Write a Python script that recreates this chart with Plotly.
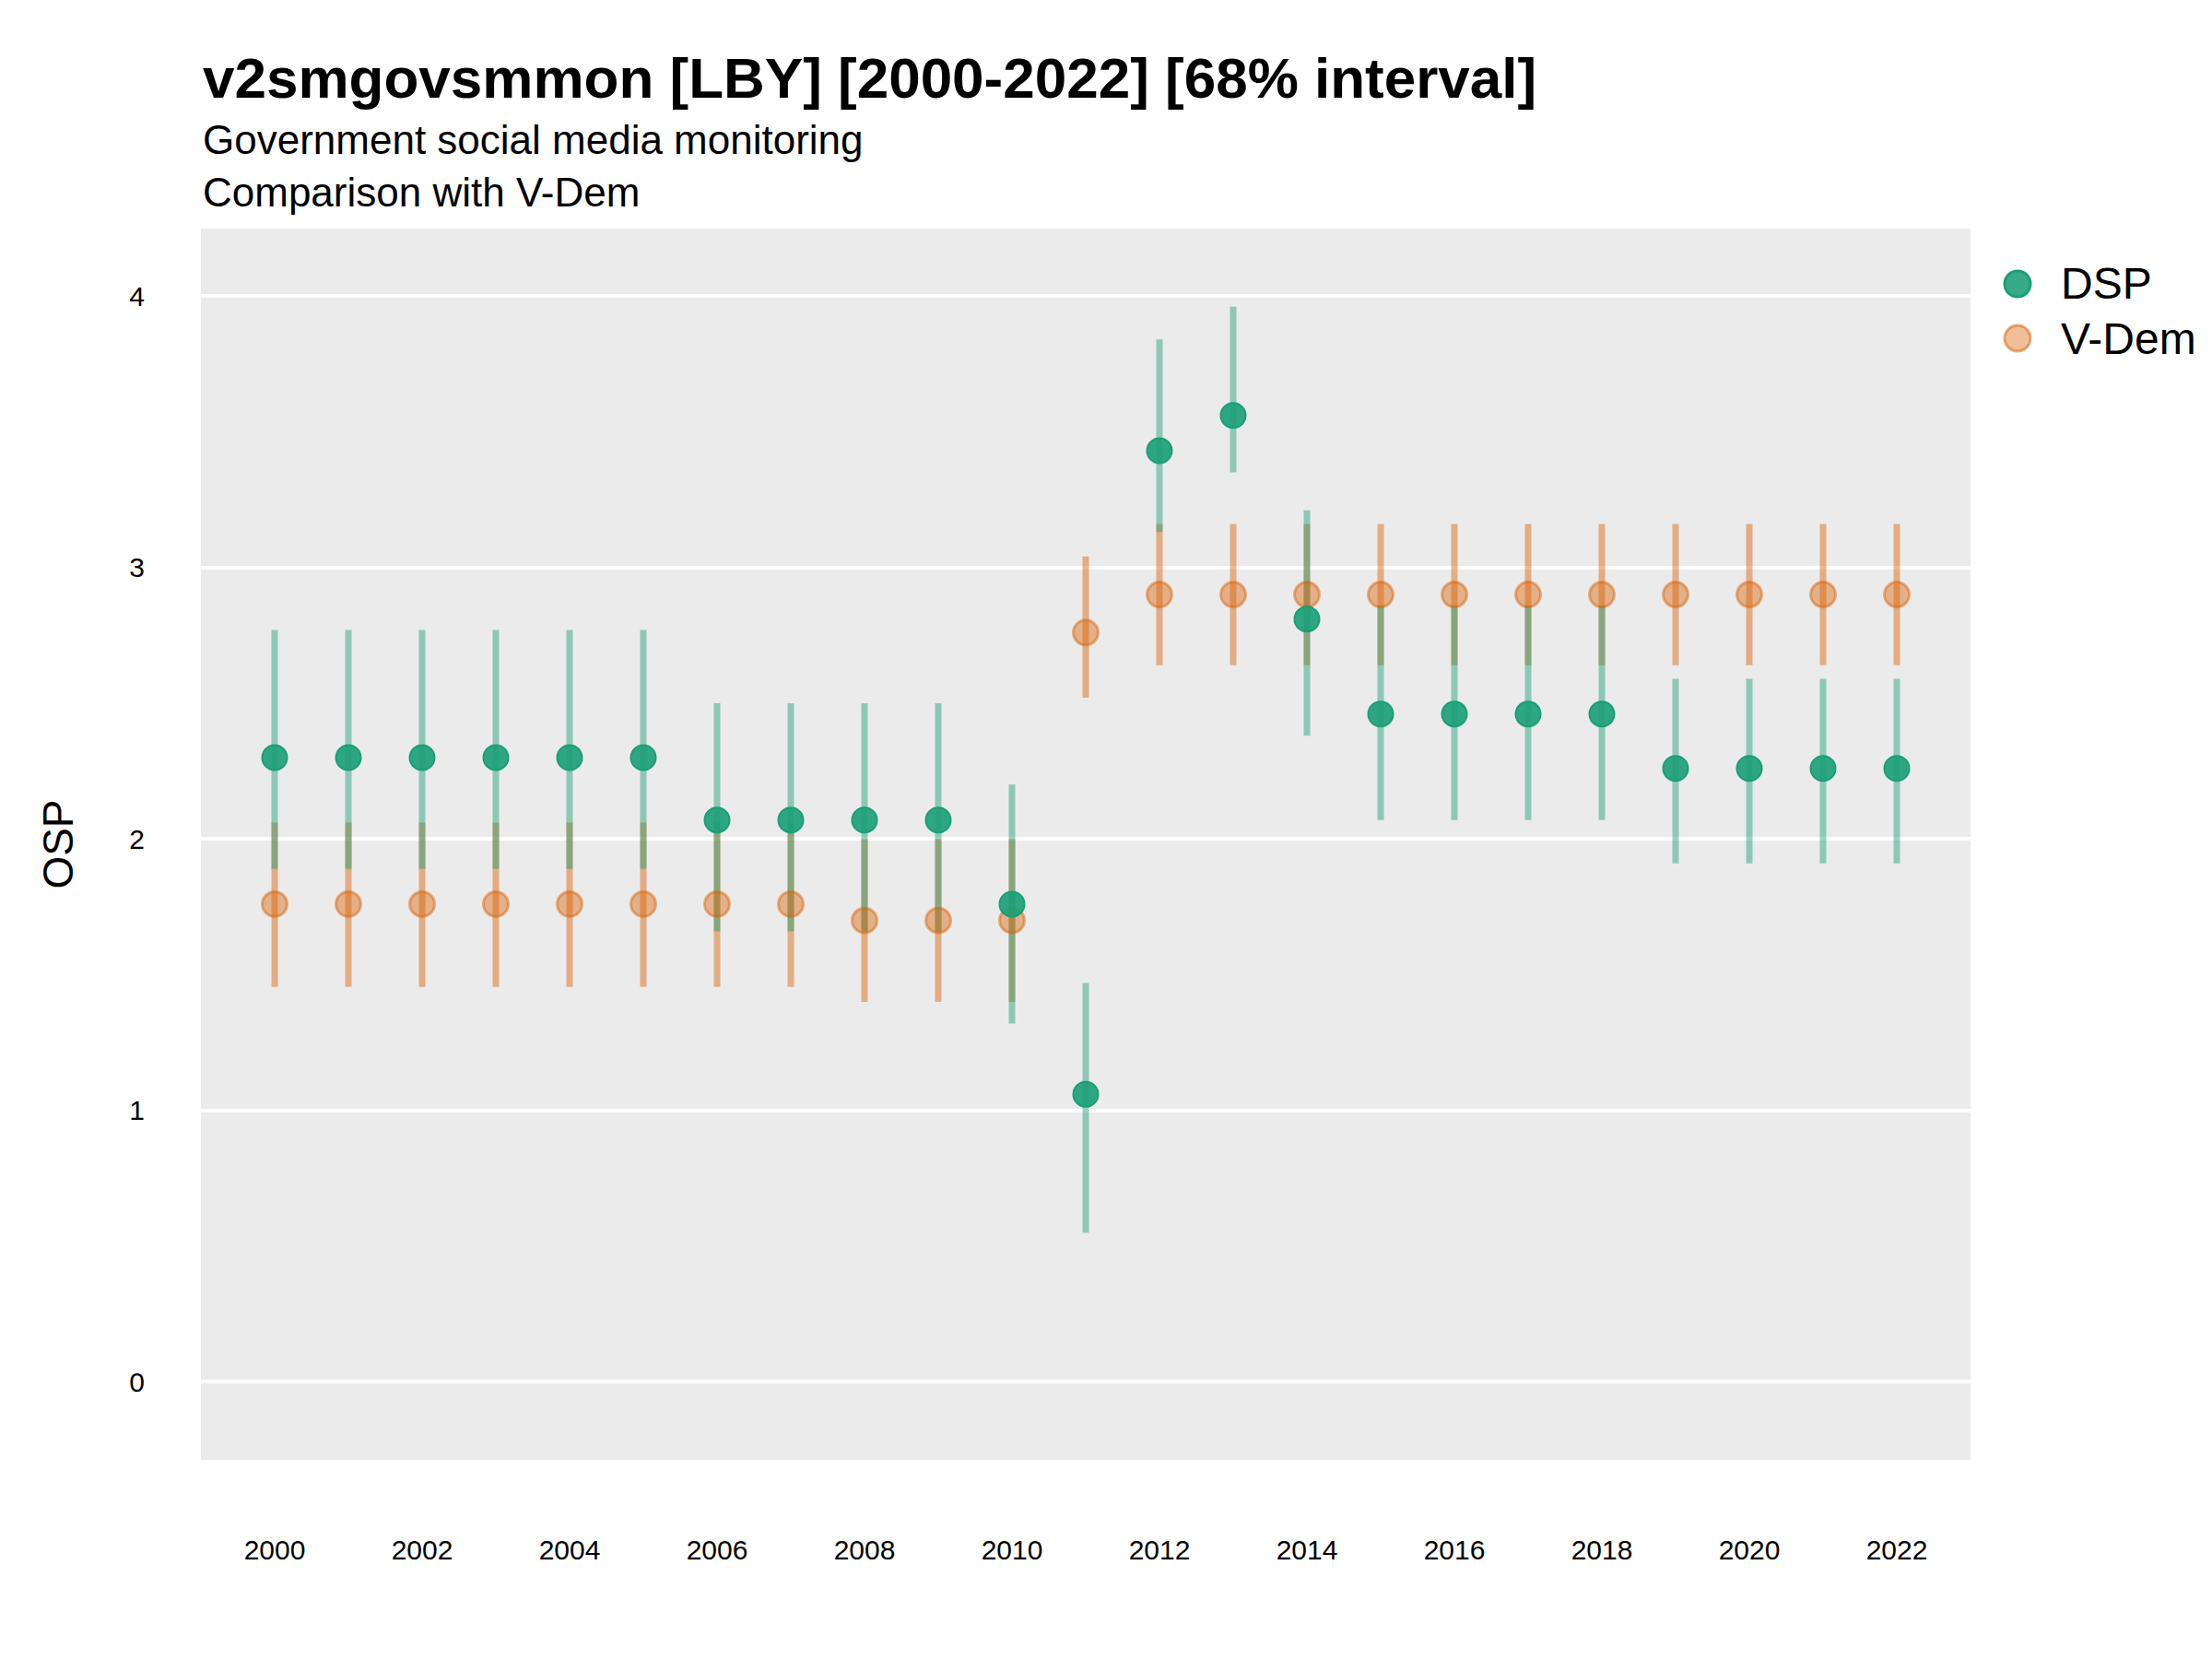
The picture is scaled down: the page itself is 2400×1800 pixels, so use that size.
import plotly.graph_objects as go

years = list(range(2000, 2023))

# DSP estimates and 68% interval
dsp_mid = [2.30, 2.30, 2.30, 2.30, 2.30, 2.30, 2.07, 2.07, 2.07, 2.07, 1.76, 1.06,
           3.43, 3.56, 2.81, 2.46, 2.46, 2.46, 2.46, 2.26, 2.26, 2.26, 2.26]
dsp_lo = [1.89, 1.89, 1.89, 1.89, 1.89, 1.89, 1.66, 1.66, 1.66, 1.66, 1.32, 0.55,
          3.13, 3.35, 2.38, 2.07, 2.07, 2.07, 2.07, 1.91, 1.91, 1.91, 1.91]
dsp_hi = [2.77, 2.77, 2.77, 2.77, 2.77, 2.77, 2.50, 2.50, 2.50, 2.50, 2.20, 1.47,
          3.84, 3.96, 3.21, 2.86, 2.86, 2.86, 2.86, 2.59, 2.59, 2.59, 2.59]

# V-Dem estimates and 68% interval
vdem_mid = [1.76, 1.76, 1.76, 1.76, 1.76, 1.76, 1.76, 1.76, 1.70, 1.70, 1.70, 2.76,
            2.90, 2.90, 2.90, 2.90, 2.90, 2.90, 2.90, 2.90, 2.90, 2.90, 2.90]
vdem_lo = [1.455, 1.455, 1.455, 1.455, 1.455, 1.455, 1.455, 1.455, 1.40, 1.40, 1.40, 2.52,
           2.64, 2.64, 2.64, 2.64, 2.64, 2.64, 2.64, 2.64, 2.64, 2.64, 2.64]
vdem_hi = [2.06, 2.06, 2.06, 2.06, 2.06, 2.06, 2.06, 2.06, 2.00, 2.00, 2.00, 3.04,
           3.16, 3.16, 3.16, 3.16, 3.16, 3.16, 3.16, 3.16, 3.16, 3.16, 3.16]

x_ticks = list(range(2000, 2023, 2))
y_ticks = [0, 1, 2, 3, 4]

GREEN = "27,158,119"
ORANGE = "217,95,2"
FONT = "Liberation Sans, Arial, sans-serif"

fig = go.Figure()

# interval bars
def add_bars(mid, lo, hi, rgb):
    fig.add_trace(go.Scatter(
        x=years, y=mid, mode="markers",
        marker=dict(size=1, color="rgba(0,0,0,0)"),
        error_y=dict(type="data", symmetric=False,
                     array=[h - m for h, m in zip(hi, mid)],
                     arrayminus=[m - l for m, l in zip(mid, lo)],
                     thickness=7, width=0, color=f"rgba({rgb},0.45)"),
        showlegend=False, hoverinfo="skip",
    ))

add_bars(vdem_mid, vdem_lo, vdem_hi, ORANGE)
add_bars(dsp_mid, dsp_lo, dsp_hi, GREEN)

# points
fig.add_trace(go.Scatter(
    x=years, y=vdem_mid, mode="markers", name="V-Dem", showlegend=False,
    marker=dict(size=27, color=f"rgba({ORANGE},0.42)",
                line=dict(color=f"rgba({ORANGE},0.45)", width=3)),
))
fig.add_trace(go.Scatter(
    x=years, y=dsp_mid, mode="markers", name="DSP", showlegend=False,
    marker=dict(size=27, color=f"rgba({GREEN},0.9)",
                line=dict(color=f"rgba({GREEN},1)", width=2)),
))

L, R, T, B = 210, 270, 240, 224
W = 2400 - L - R
H = 1800 - T - B

def px_(pix):
    return (pix - L) / W

def py(pix):
    return (1800 - B - pix) / H

fig.add_annotation(text="<b>v2smgovsmmon [LBY] [2000-2022] [68% interval]</b>",
                   xref="paper", yref="paper", x=0, y=py(77), xanchor="left", yanchor="middle",
                   showarrow=False, font=dict(size=62, color="black", family=FONT))
fig.add_annotation(text="Government social media monitoring",
                   xref="paper", yref="paper", x=0, y=py(143), xanchor="left", yanchor="middle",
                   showarrow=False, font=dict(size=44, color="black", family=FONT))
fig.add_annotation(text="Comparison with V-Dem",
                   xref="paper", yref="paper", x=0, y=py(200), xanchor="left", yanchor="middle",
                   showarrow=False, font=dict(size=44, color="black", family=FONT))

# legend drawn by hand so the keys can be as large as in the reference
legend_items = [("DSP", f"rgba({GREEN},0.88)", f"rgba({GREEN},1)", 300),
                ("V-Dem", f"rgba({ORANGE},0.4)", f"rgba({ORANGE},0.5)", 359)]
for label, fill, edge, yc in legend_items:
    fig.add_shape(type="circle", xref="paper", yref="paper",
                  xsizemode="pixel", ysizemode="pixel",
                  xanchor=px_(2181), yanchor=py(yc),
                  x0=-14, x1=14, y0=-14, y1=14,
                  fillcolor=fill, line=dict(color=edge, width=3))
    fig.add_annotation(text=label, xref="paper", yref="paper",
                       x=px_(2226), y=py(yc), xanchor="left", yanchor="middle",
                       showarrow=False, font=dict(size=48, color="black", family=FONT))

fig.update_layout(
    width=2400, height=1800,
    margin=dict(l=L, r=R, t=T, b=B),
    paper_bgcolor="white", plot_bgcolor="#EBEBEB",
    font=dict(family=FONT, color="black"),
    showlegend=False,
    xaxis=dict(range=[1999, 2023], tickvals=x_ticks, showgrid=False, zeroline=False,
               showline=False, ticks="", tickfont=dict(size=30, color="black"),
               ticklabelstandoff=77),
    yaxis=dict(range=[-0.287, 4.248], tickvals=y_ticks, showgrid=True,
               gridcolor="white", gridwidth=4, zeroline=False, showline=False, ticks="",
               tickfont=dict(size=30, color="black"), ticklabelstandoff=60,
               title=dict(text="OSP", font=dict(size=46, color="black"), standoff=46)),
)

fig.write_html("out.html")
